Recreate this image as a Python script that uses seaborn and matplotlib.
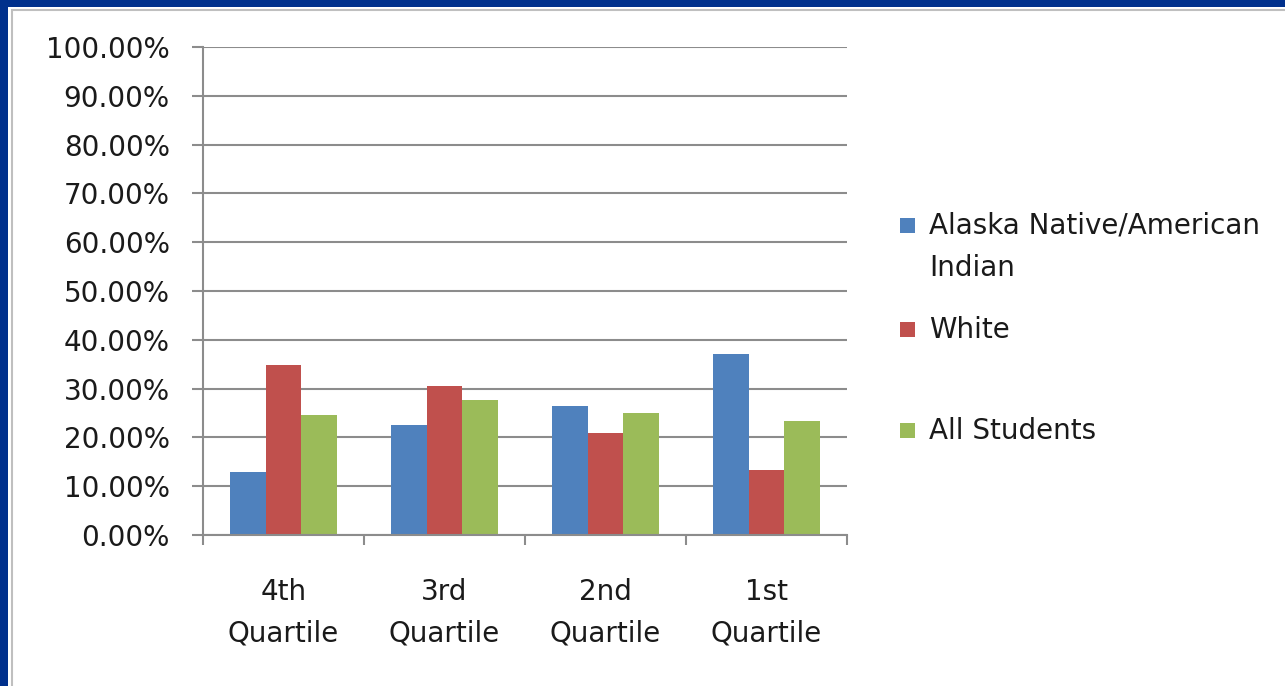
import pandas as pd
import matplotlib.pyplot as plt
import matplotlib.patches as mpatches
import seaborn as sns

# values (percent)
quartiles = ["4th\nQuartile", "3rd\nQuartile", "2nd\nQuartile", "1st\nQuartile"]
groups = ["Alaska Native/American\nIndian", "White", "All Students"]
native = [12.9, 22.6, 26.5, 37.0]
white = [34.9, 30.6, 20.9, 13.4]
all_students = [24.6, 27.6, 25.0, 23.4]
colors = ["#4F81BD", "#C0504D", "#9BBB59"]

df = pd.DataFrame({
    "Quartile": quartiles * 3,
    "Group": [g for g in groups for _ in quartiles],
    "Percent": native + white + all_students,
})

sns.set_style("white")
plt.rcParams["font.family"] = ["DejaVu Sans"]
fs = 20
txt_c = "#1a1a1a"

W, H = 1285, 686
fig = plt.figure(figsize=(W / 100, H / 100), dpi=100)
fig.patch.set_facecolor("#00308C")

# white slide panel with light grey chart frame
fig.patches.append(mpatches.Rectangle((8 / W, 0), 1, 1 - 7 / H, transform=fig.transFigure,
                                      facecolor="white", edgecolor="none", zorder=0))
fig.patches.append(mpatches.Rectangle((12 / W, -0.1), 1, 1 - 10 / H + 0.1, transform=fig.transFigure,
                                      facecolor="white", edgecolor="#BFBFBF", lw=1.5, zorder=0))

ax = fig.add_axes([203 / W, 1 - 535 / H, (847 - 203) / W, (535 - 47) / H])
ax.set_zorder(3)
ax.set_facecolor("white")

sns.barplot(data=df, x="Quartile", y="Percent", hue="Group", order=quartiles,
            hue_order=groups, palette=colors, width=0.66, gap=0, saturation=1,
            edgecolor="none", ax=ax, legend=False)

grid_c = "#8C8C8C"
ax.set_ylim(0, 100)
ax.set_xlim(-0.5, 3.5)
yt = list(range(0, 101, 10))
ax.set_yticks(yt)
ax.set_yticklabels([f"{v:.2f}%" for v in yt])
ax.yaxis.grid(True, color=grid_c, lw=1.5)
ax.set_axisbelow(True)

ax.set_xticks([-0.5, 0.5, 1.5, 2.5, 3.5])
ax.set_xticklabels([])
ax.set_xticks(range(len(quartiles)), minor=True)
ax.set_xticklabels(quartiles, minor=True, linespacing=1.6)
ax.tick_params(axis="x", which="major", bottom=True, length=7, width=1.5, color=grid_c, direction="out")
ax.tick_params(axis="x", which="minor", bottom=True, length=0, pad=31, labelsize=fs, labelcolor=txt_c)
ax.tick_params(axis="y", left=True, length=8, width=1.5, color=grid_c, pad=16, labelsize=fs, labelcolor=txt_c)

for side in ["top", "right"]:
    ax.spines[side].set_visible(False)
for side in ["left", "bottom"]:
    ax.spines[side].set_color(grid_c)
    ax.spines[side].set_linewidth(1.5)
ax.set_xlabel("")
ax.set_ylabel("")

# legend drawn in Excel style
leg_y = [226, 330, 431]
for label, c, y in zip(groups, colors, leg_y):
    fig.patches.append(mpatches.Rectangle((900 / W, 1 - (y + 7) / H), 15 / W, 15 / H,
                                          transform=fig.transFigure, facecolor=c, edgecolor="none"))
    if "\n" in label:
        fig.text(929 / W, 1 - (y - 14) / H, label, va="top", fontsize=fs, color=txt_c,
                 linespacing=1.64)
    else:
        fig.text(929 / W, 1 - y / H, label, va="center", fontsize=fs, color=txt_c)

fig.savefig("out.png", dpi=100, facecolor=fig.get_facecolor())
